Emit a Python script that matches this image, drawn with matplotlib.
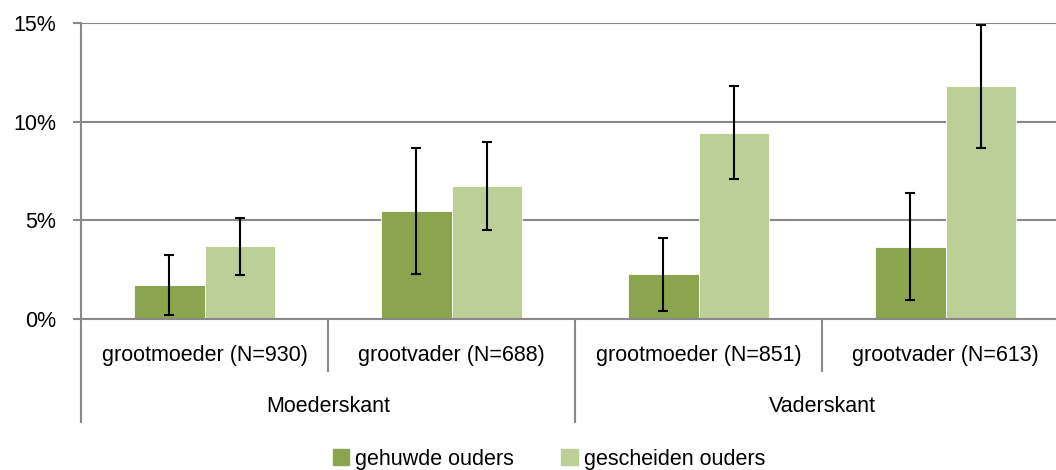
import numpy as np
import matplotlib; matplotlib.use("Agg")
import matplotlib.pyplot as plt
from matplotlib.patches import Patch

# ---- data ----
categories   = ["grootmoeder (N=930)", "grootvader (N=688)", "grootmoeder (N=851)", "grootvader (N=613)"]
groups       = ["Moederskant", "Vaderskant"]
married      = [1.72, 5.46, 2.26, 3.65]     # % gehuwde ouders
divorced     = [3.68, 6.73, 9.45, 11.79]    # % gescheiden ouders
married_err  = [1.54, 3.20, 1.84, 2.71]
divorced_err = [1.46, 2.24, 2.38, 3.10]
yticks       = [0, 5, 10, 15]

plt.rcParams["font.family"] = ["Liberation Sans", "DejaVu Sans"]
DARK, LIGHT, GRID = "#8AA54E", "#BBCF96", "#898989"
FS = 15.5

W, H = 1056, 470
fig = plt.figure(figsize=(W / 100, H / 100), dpi=100)
x0, x1, y0, y1 = 81, 1069, 319, 23          # plot area in pixels
ax = fig.add_axes([x0 / W, (H - y0) / H, (x1 - x0) / W, (y0 - y1) / H])

x = np.arange(len(categories)) + 0.5
bw = 0.285
ekw = dict(ecolor="black", elinewidth=1.5, capsize=3.5, capthick=1.5)
ax.bar(x - bw / 2, married, bw, color=DARK, edgecolor="white", linewidth=0.6, zorder=2,
       yerr=married_err, error_kw=ekw)
ax.bar(x + bw / 2, divorced, bw, color=LIGHT, edgecolor="white", linewidth=0.6, zorder=2,
       yerr=divorced_err, error_kw=ekw)

ax.set_xlim(0, len(categories))
ax.set_ylim(0, 15)
ax.set_yticks(yticks)
ax.set_yticklabels([f"{v}%" for v in yticks], fontsize=FS)
ax.tick_params(axis="y", length=6, width=1.5, color=GRID, pad=12)
ax.set_xticks([])
ax.grid(axis="y", color=GRID, lw=1.5, zorder=0)
for s in ["top", "right"]:
    ax.spines[s].set_visible(False)
for s in ["left", "bottom"]:
    ax.spines[s].set_color(GRID)
    ax.spines[s].set_linewidth(1.5)

# multi-level category axis
tr = ax.get_xaxis_transform()
to_ax = lambda py: (y0 - py) / (y0 - y1)
for xd in range(len(categories) + 1):
    bottom = 371 if xd % 2 else 422
    ax.plot([xd, xd], [0, to_ax(bottom)], color=GRID, lw=1.5, transform=tr, clip_on=False)
for xi, lab in zip(x, categories):
    ax.text(xi, to_ax(355), lab, transform=tr, ha="center", va="center", fontsize=FS)
for gi, g in enumerate(groups):
    ax.text(gi * 2 + 1, to_ax(406), g, transform=tr, ha="center", va="center", fontsize=FS)

handles = [Patch(color=DARK), Patch(color=LIGHT)]
fig.legend(handles, ["gehuwde ouders", "gescheiden ouders"], loc="center",
           bbox_to_anchor=(549 / W, (H - 459) / H), ncol=2, frameon=False, fontsize=FS,
           handlelength=0.75, handleheight=0.75, handletextpad=0.3, columnspacing=2.2)

fig.savefig("out.png", dpi=100)
